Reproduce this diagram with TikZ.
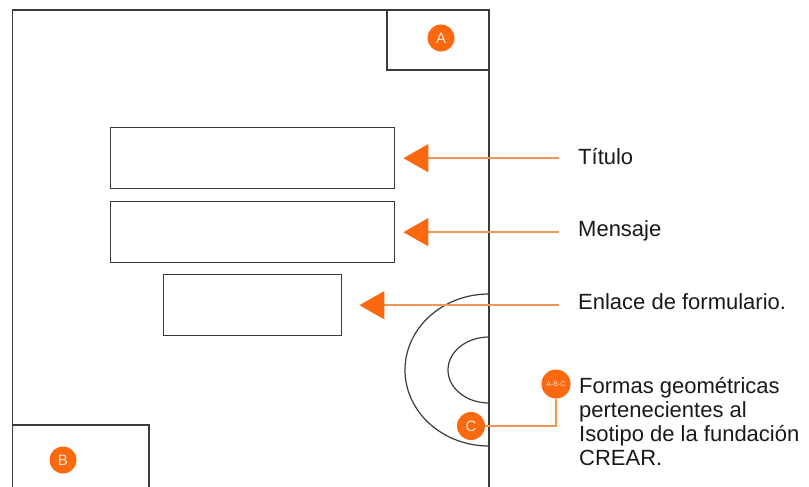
\documentclass[tikz,border=0pt]{standalone}
\usepackage{fontspec}
\setmainfont{Liberation Sans}
\usetikzlibrary{arrows.meta}
\definecolor{frameline}{RGB}{58,58,58}
\definecolor{accent}{RGB}{250,105,15}
\definecolor{leader}{RGB}{242,150,85}
\definecolor{inktext}{RGB}{25,25,25}
\definecolor{badgetext}{RGB}{255,232,215}
\begin{document}
\begin{tikzpicture}[x=1pt,y=-1pt,
  outline/.style={draw=frameline,line width=1.4pt},
  block/.style={outline,minimum width=#1,minimum height=61pt,inner sep=0pt,anchor=north west},
  badge/.style={circle,fill=accent,inner sep=0pt,minimum size=#1,text=badgetext},
  caption/.style={anchor=base west,inner sep=0pt,text=inktext,font=\fontsize{22}{24}\selectfont},
  pointer/.style={draw=leader,line width=1.5pt,-{Triangle[length=25pt,width=28pt,color=accent]}},
  leadline/.style={draw=leader,line width=1.5pt}]
\useasboundingbox (0,0) rectangle (809,487);

% page outline and corner boxes
\draw[outline] (12.5,487) |- (489,10) -- (489,487);
\draw[outline] (387,10) rectangle (489,70);
\draw[outline] (12.5,425) -| (149,487);

% half-ring shapes on the right edge (y axis points down, so the top is at 270 degrees)
\draw[outline,line width=1.2pt] (489,294) arc[start angle=270,end angle=90,x radius=84,y radius=76];
\draw[outline,line width=1.2pt] (489,337) arc[start angle=270,end angle=90,x radius=41,y radius=33];

% content blocks
\node[block=284pt] (rT) at (110,127) {};
\node[block=284pt] (rM) at (110,201) {};
\node[block=178pt] (rE) at (163,274) {};

% labels
\node[caption] (lT) at (578,164) {Título};
\node[caption] (lM) at (578,236) {Mensaje};
\node[caption] (lE) at (578,309) {Enlace de formulario.};
\node[caption] (f1) at (579,393) {Formas geométricas};
\node[caption] (f2) at (579,417) {pertenecientes al};
\node[caption] (f3) at (579,441) {Isotipo de la fundación};
\node[caption] (f4) at (579,465) {CREAR.};

% pointers from labels to blocks
\draw[pointer] ([xshift=-19pt]rT.east -| lT.west) -- ([xshift=8pt]rT.east);
\draw[pointer] ([xshift=-19pt]rM.east -| lM.west) -- ([xshift=8pt]rM.east);
\draw[pointer] ([xshift=-19pt]rE.east -| lE.west) -- ([xshift=17pt]rE.east);

% badges
\node[badge=27pt,font=\fontsize{15}{15}\selectfont] (bA) at (441,38) {A};
\node[badge=27pt,font=\fontsize{15}{15}\selectfont] (bB) at (63,460) {B};
\node[badge=28pt,font=\fontsize{15}{15}\selectfont] (bC) at (471,426) {C};
\node[badge=29pt,font=\fontsize{7}{7}\selectfont] (bABC) at (556,384) {A-B-C};
\draw[leadline] (bC.east) -| (bABC.south);
\end{tikzpicture}
\end{document}
